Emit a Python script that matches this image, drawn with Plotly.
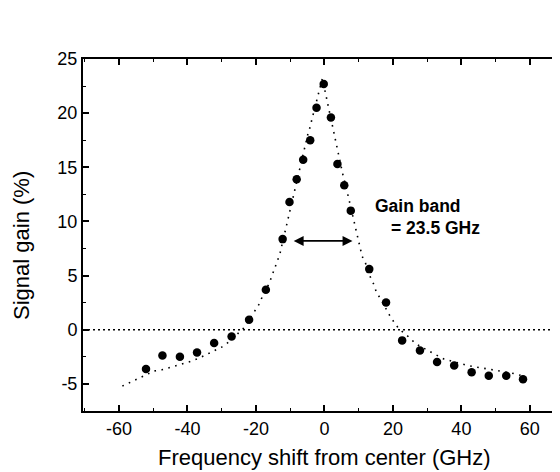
import plotly.graph_objects as go

# Measured signal gain (%) vs frequency shift (GHz)
freq_shift = [-52.1, -47.3, -42.2, -37.2, -32.2, -27.1, -22.0, -17.1, -12.2, -10.2,
              -8.1, -6.2, -4.15, -2.3, -0.2, 1.9, 3.8, 5.8, 7.7, 13.1,
              18.0, 22.7, 27.9, 32.9, 37.9, 43.0, 48.0, 53.1, 58.0]
signal_gain = [-3.63, -2.37, -2.5, -2.1, -1.23, -0.62, 0.92, 3.7, 8.37, 11.8,
               13.9, 15.7, 17.5, 20.5, 22.7, 19.6, 15.3, 13.35, 11.0, 5.6,
               2.52, -0.98, -1.92, -2.98, -3.29, -3.93, -4.24, -4.24, -4.56]

# Dotted fit curve
fit_x = [-59.0, -49.7, -47.5, -45.3, -43.2, -41.0, -38.8, -36.5, -34.4, -32.3,
         -30.0, -27.8, -25.6, -23.7, -20.6, -19.2, -18.2, -16.1, -15.3, -13.8,
         -13.0, -12.5, -11.5, -10.9, -10.5, -9.9, -9.0, -8.4, -7.4, -5.9,
         -4.8, -4.1, -3.6, -0.6, 2.4, 3.1, 3.9, 4.5, 5.3, 6.9,
         7.4, 8.9, 9.5, 10.4, 11.0, 12.0, 13.6, 14.5, 15.2, 16.6,
         18.8, 20.3, 21.8, 24.4, 26.7, 30.7, 34.9, 41.8, 43.7, 46.4,
         50.3, 54.7, 56.6, 58.0]
fit_y = [-5.2, -3.8, -3.7, -3.5, -3.3, -3.1, -2.9, -2.6, -2.3, -2.0,
         -1.6, -1.1, -0.46, 0.12, 1.6, 2.3, 3.0, 4.3, 5.0, 6.4,
         7.0, 7.7, 9.07, 9.75, 10.5, 11.1, 12.5, 13.2, 14.6, 16.7,
         18.1, 18.8, 19.5, 23.2, 18.7, 17.9, 16.6, 15.8, 14.45, 12.4,
         11.7, 9.75, 9.0, 7.5, 6.8, 6.15, 4.7, 4.15, 3.44, 2.77,
         1.45, 0.71, 0.06, -0.6, -1.3, -2.0, -2.7, -3.3, -3.4, -3.6,
         -3.8, -4.0, -4.15, -4.25]

# Gain band (FWHM) arrow ends
band_start = -9.4
band_end = 8.2
band_level = 8.2

x_ticks = [-60, -40, -20, 0, 20, 40, 60]
x_tick_labels = ["-60", "-40", "-20", "0", "20", "40", "60"]
y_ticks = [-5, 0, 5, 10, 15, 20, 25]
y_tick_labels = ["-5", "0", "5", "10", "15", "20", "25"]
x_range = [-70.5, 68.8]
y_range = [-7.5, 25]

FONT = "Liberation Sans, Arial, sans-serif"

fig = go.Figure()

fig.add_trace(go.Scatter(x=fit_x, y=fit_y, mode="lines",
                         line=dict(color="black", width=1.6, dash="1.6px,5.5px"),
                         showlegend=False, hoverinfo="skip"))
fig.add_trace(go.Scatter(x=freq_shift, y=signal_gain, mode="markers",
                         marker=dict(color="black", size=8.5),
                         showlegend=False))
# empty trace to carry the right-hand tick axis
fig.add_trace(go.Scatter(x=[], y=[], yaxis="y2", showlegend=False))

# zero reference line
fig.add_shape(type="line", xref="paper", x0=0, x1=1, yref="y", y0=0, y1=0,
              line=dict(color="black", width=1.6, dash="2px,3px"))

# gain band double arrow
fig.add_annotation(x=band_end, y=band_level, ax=band_start, ay=band_level,
                   xref="x", yref="y", axref="x", ayref="y", text="",
                   showarrow=True, arrowhead=2, startarrowhead=2,
                   arrowside="end+start", arrowsize=1.1, startarrowsize=1.1,
                   arrowwidth=1.8, arrowcolor="black")

fig.add_annotation(x=14.2, y=11.47, xref="x", yref="y", text="<b>Gain band</b>",
                   showarrow=False, xanchor="left", yanchor="middle",
                   font=dict(family=FONT, size=17.5, color="black"))
fig.add_annotation(x=18.8, y=9.38, xref="x", yref="y", text="<b>= 23.5 GHz</b>",
                   showarrow=False, xanchor="left", yanchor="middle",
                   font=dict(family=FONT, size=17.5, color="black"))

# axis titles
fig.add_annotation(x=0.506, y=-0.1335, xref="paper", yref="paper",
                   text="Frequency shift from center (GHz)", showarrow=False,
                   xanchor="center", yanchor="middle",
                   font=dict(family=FONT, size=22, color="black"))
fig.add_annotation(x=-0.128, y=0.4716, xref="paper", yref="paper",
                   text="Signal gain (%)", showarrow=False, textangle=-90,
                   xanchor="center", yanchor="middle",
                   font=dict(family=FONT, size=22, color="black"))

# the page body adds an 8px offset, so the figure is 8px smaller
fig.update_layout(
    template="none",
    width=552, height=464,
    margin=dict(l=75, r=0, t=51, b=61, autoexpand=False),
    paper_bgcolor="white", plot_bgcolor="white",
    font=dict(family=FONT, size=18, color="black"),
    xaxis=dict(range=x_range, tickvals=x_ticks, ticktext=x_tick_labels,
               ticks="inside", ticklen=6, automargin=False,
               tickwidth=1.5, tickcolor="black", showline=True, linewidth=2,
               linecolor="black", mirror="ticks", showgrid=False, zeroline=False,
               minor=dict(dtick=10, tick0=0, ticks="inside", ticklen=3,
                          tickwidth=1.2, tickcolor="black", showgrid=False),
               tickfont=dict(size=18)),
    yaxis=dict(range=y_range, tickvals=y_ticks, ticktext=y_tick_labels,
               ticks="inside", ticklen=6, automargin=False,
               tickwidth=1.5, tickcolor="black", showline=True, linewidth=2,
               linecolor="black", showgrid=False, zeroline=False,
               minor=dict(dtick=2.5, tick0=0, ticks="inside", ticklen=3,
                          tickwidth=1.2, tickcolor="black", showgrid=False),
               tickfont=dict(size=18)),
    yaxis2=dict(range=y_range, overlaying="y", side="right", anchor="x",
                tickvals=y_ticks, ticks="inside", ticklen=5, tickwidth=1.5,
                tickcolor="black", showline=False, showgrid=False,
                zeroline=False, showticklabels=False, automargin=False,
                minor=dict(dtick=2.5, tick0=0, ticks="inside", ticklen=3,
                           tickwidth=1.2, tickcolor="black", showgrid=False)),
)

fig.write_html("out.html")
